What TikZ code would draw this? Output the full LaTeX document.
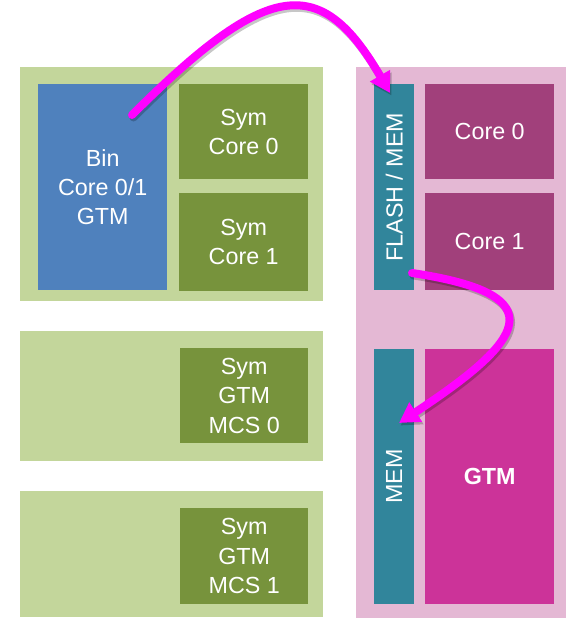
\documentclass[tikz,border=0pt]{standalone}
\usepackage{fontspec}
\setmainfont{Liberation Sans}
\usetikzlibrary{arrows.meta}
\definecolor{panelgreen}{RGB}{195,214,155}
\definecolor{symgreen}{RGB}{119,147,60}
\definecolor{binblue}{RGB}{79,129,189}
\definecolor{panelpink}{RGB}{228,184,212}
\definecolor{memteal}{RGB}{49,133,155}
\definecolor{coreplum}{RGB}{161,64,123}
\definecolor{gtmpink}{RGB}{204,51,153}
\definecolor{flowpink}{RGB}{255,0,255}

\begin{document}
\begin{tikzpicture}[x=1pt, y=-1pt, >={Triangle[length=20pt,width=22pt]},
  block/.style={anchor=north west, inner sep=0pt, text=white, align=center,
    font=\fontsize{23.3}{29.3}\selectfont},
  flow/.style={->, line width=8pt, draw=flowpink, line cap=round},
  flowshadow/.style={flow, draw=black, opacity=.22,
    transform canvas={shift={(1.5pt,-2.5pt)}}}]
  \useasboundingbox (0,0) rectangle (566,618);

  % left side: three green panels
  \fill[panelgreen] (20,67) rectangle (323,301);
  \fill[panelgreen] (20,331) rectangle (323,461);
  \fill[panelgreen] (20,491) rectangle (323,617);
  \node[block, fill=binblue, minimum width=129pt, minimum height=206pt]
    (bin) at (38,84) {Bin\\Core 0/1\\GTM};
  \node[block, fill=symgreen, minimum width=129pt, minimum height=95pt]
    (sym0) at (179,84) {Sym\\Core 0};
  \node[block, fill=symgreen, minimum width=129pt, minimum height=98pt]
    (sym1) at (179,193) {Sym\\Core 1};
  \node[block, fill=symgreen, minimum width=128pt, minimum height=95pt]
    (mcs0) at (180,348) {Sym\\GTM\\MCS 0};
  \node[block, fill=symgreen, minimum width=128pt, minimum height=96pt]
    (mcs1) at (180,508) {Sym\\GTM\\MCS 1};

  % right side: pink panel
  \fill[panelpink] (356,67) rectangle (566,618);
  \node[block, fill=memteal, minimum width=40pt, minimum height=206pt]
    (flash) at (374,84) {};
  \node[text=white, rotate=90, font=\fontsize{23.3}{29.3}\selectfont]
    at (flash.center) {FLASH / MEM};
  \node[block, fill=coreplum, minimum width=129pt, minimum height=95pt]
    (core0) at (425,84) {Core 0};
  \node[block, fill=coreplum, minimum width=129pt, minimum height=97pt]
    (core1) at (425,193) {Core 1};
  \node[block, fill=memteal, minimum width=40pt, minimum height=255pt]
    (mem) at (374,349) {};
  \node[text=white, rotate=90, font=\fontsize{23.3}{29.3}\selectfont]
    at (mem.center) {MEM};
  \node[block, fill=gtmpink, minimum width=129pt, minimum height=255pt,
    font=\fontsize{23.3}{29.3}\selectfont\bfseries] (gtm) at (425,349) {GTM};

  % flow arrows
  \coordinate (binout) at (132,115);
  \coordinate (flashin) at (390,93);
  \coordinate (flashout) at (412,273);
  \coordinate (memin) at (399,423);
  \draw[flowshadow] (binout) .. controls (269,-22) and (321,-26) .. (flashin);
  \draw[flow] (binout) .. controls (269,-22) and (321,-26) .. (flashin);
  \draw[flowshadow] (flashout) .. controls (560,295) and (522,342) .. (memin);
  \draw[flow] (flashout) .. controls (560,295) and (522,342) .. (memin);
\end{tikzpicture}
\end{document}
